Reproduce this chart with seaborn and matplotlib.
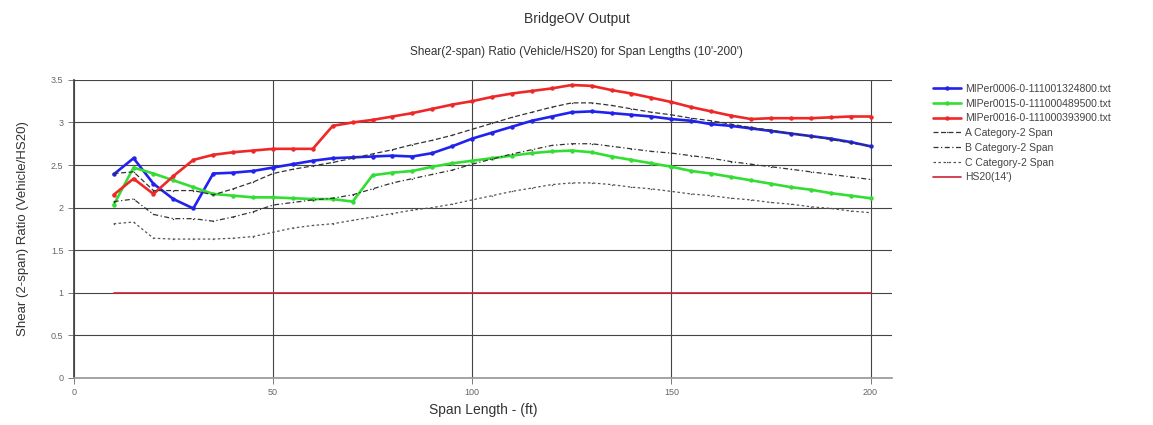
import numpy as np
import pandas as pd
import matplotlib
matplotlib.use("Agg")
import matplotlib.pyplot as plt
import seaborn as sns

span = list(range(10, 205, 5))

mi0006 = [2.39, 2.58, 2.28, 2.10, 1.99, 2.40, 2.41, 2.43, 2.47, 2.51,
          2.55, 2.58, 2.59, 2.60, 2.61, 2.60, 2.64, 2.72, 2.81, 2.88,
          2.95, 3.02, 3.07, 3.12, 3.13, 3.11, 3.09, 3.07, 3.04, 3.02,
          2.98, 2.96, 2.93, 2.90, 2.87, 2.84, 2.81, 2.77, 2.72]
mi0015 = [2.03, 2.47, 2.40, 2.32, 2.24, 2.16, 2.14, 2.12, 2.12, 2.11,
          2.10, 2.10, 2.07, 2.38, 2.41, 2.43, 2.48, 2.52, 2.55, 2.58,
          2.61, 2.64, 2.66, 2.67, 2.65, 2.60, 2.56, 2.52, 2.48, 2.43,
          2.40, 2.36, 2.32, 2.28, 2.24, 2.21, 2.17, 2.14, 2.11]
mi0016 = [2.15, 2.34, 2.16, 2.37, 2.56, 2.62, 2.65, 2.67, 2.69, 2.69,
          2.69, 2.96, 3.00, 3.03, 3.07, 3.11, 3.16, 3.21, 3.25, 3.30,
          3.34, 3.37, 3.40, 3.44, 3.43, 3.38, 3.34, 3.29, 3.24, 3.18,
          3.13, 3.08, 3.04, 3.05, 3.05, 3.05, 3.06, 3.07, 3.07]
cat_a = [2.40, 2.42, 2.20, 2.20, 2.20, 2.15, 2.22, 2.30, 2.40, 2.45,
         2.49, 2.53, 2.58, 2.63, 2.68, 2.74, 2.79, 2.85, 2.92, 2.99,
         3.06, 3.12, 3.18, 3.23, 3.23, 3.20, 3.16, 3.12, 3.09, 3.05,
         3.02, 2.98, 2.94, 2.91, 2.87, 2.84, 2.80, 2.76, 2.72]
cat_b = [2.07, 2.10, 1.92, 1.87, 1.87, 1.84, 1.89, 1.95, 2.03, 2.06,
         2.09, 2.11, 2.15, 2.22, 2.29, 2.34, 2.39, 2.44, 2.51, 2.57,
         2.63, 2.68, 2.73, 2.75, 2.75, 2.72, 2.69, 2.66, 2.64, 2.61,
         2.58, 2.54, 2.51, 2.48, 2.45, 2.42, 2.39, 2.36, 2.33]
cat_c = [1.81, 1.83, 1.64, 1.63, 1.63, 1.63, 1.64, 1.66, 1.71, 1.76,
         1.79, 1.81, 1.85, 1.89, 1.93, 1.97, 2.00, 2.04, 2.09, 2.14,
         2.19, 2.23, 2.27, 2.29, 2.29, 2.27, 2.24, 2.22, 2.19, 2.16,
         2.14, 2.11, 2.09, 2.06, 2.04, 2.01, 1.99, 1.96, 1.94]
hs20 = [1.0] * len(span)

labels = ["MIPer0006-0-111001324800.txt", "MIPer0015-0-111000489500.txt",
          "MIPer0016-0-111000393900.txt", "A Category-2 Span",
          "B Category-2 Span", "C Category-2 Span", "HS20(14')"]
x_ticks = [0, 50, 100, 150, 200]
y_ticks = [0, 0.5, 1, 1.5, 2, 2.5, 3, 3.5]
y_tick_labels = ["0", "0.5", "1", "1.5", "2", "2.5", "3", "3.5"]

sns.set_theme(style="white")
plt.rcParams['font.family'] = ['Liberation Sans', 'DejaVu Sans']

fig = plt.figure(figsize=(11.53, 4.25), dpi=100)
ax = fig.add_axes([0.064, 0.111, 0.710, 0.701])

series = [mi0006, mi0015, mi0016, cat_a, cat_b, cat_c, hs20]
styles = [
    dict(color="#2222ee", lw=1.9, marker="o", ms=3.2, ls="-"),
    dict(color="#33dd33", lw=1.9, marker="o", ms=3.2, ls="-"),
    dict(color="#ee2828", lw=1.9, marker="o", ms=3.2, ls="-"),
    dict(color="#333333", lw=0.9, marker=".", ms=2, ls=(0, (4, 2))),
    dict(color="#333333", lw=0.9, marker=".", ms=2, ls=(0, (4, 2, 1, 2))),
    dict(color="#555555", lw=0.9, marker=".", ms=2, ls=(0, (2, 2))),
    dict(color="#cc2233", lw=1.2, marker=None, ms=0, ls="-"),
]
for vals, lab, st in zip(series, labels, styles):
    df = pd.DataFrame({"span": span, "ratio": vals})
    sns.lineplot(data=df, x="span", y="ratio", ax=ax, label=lab,
                 color=st["color"], linewidth=st["lw"], linestyle=st["ls"],
                 marker=st["marker"], markersize=st["ms"],
                 markeredgewidth=0, markeredgecolor=st["color"])

ax.set_xlim(0, 205.5)
ax.set_ylim(0, 3.5)
ax.set_xticks(x_ticks)
ax.set_xticklabels([str(t) for t in x_ticks])
ax.set_yticks(y_ticks)
ax.set_yticklabels(y_tick_labels)
ax.tick_params(axis="both", labelsize=6.5, colors="#666666", length=4,
               direction="out", left=True, bottom=True, width=0.6)
ax.grid(True, color="#444444", linewidth=0.8)
ax.set_axisbelow(True)
for side in ["top", "right"]:
    ax.spines[side].set_visible(False)
ax.spines["left"].set_color("#444444")
ax.spines["bottom"].set_color("#999999")
ax.set_xlabel("Span Length - (ft)", fontsize=10, color="#333333")
ax.set_ylabel("Shear (2-span) Ratio (Vehicle/HS20)", fontsize=9.5,
              color="#333333", labelpad=16)

fig.text(0.5, 0.955, "BridgeOV Output", ha="center", va="center",
         fontsize=10, color="#333333")
fig.text(0.5, 0.878, "Shear(2-span) Ratio (Vehicle/HS20) for Span Lengths (10'-200')",
         ha="center", va="center", fontsize=8.5, color="#333333")

leg = ax.legend(loc="upper left", bbox_to_anchor=(1.045, 1.0), frameon=False,
                fontsize=7.5, handlelength=2.6, labelspacing=0.45,
                handletextpad=0.4, borderaxespad=0)
for t in leg.get_texts():
    t.set_color("#444444")

fig.savefig("out.png", dpi=100)
